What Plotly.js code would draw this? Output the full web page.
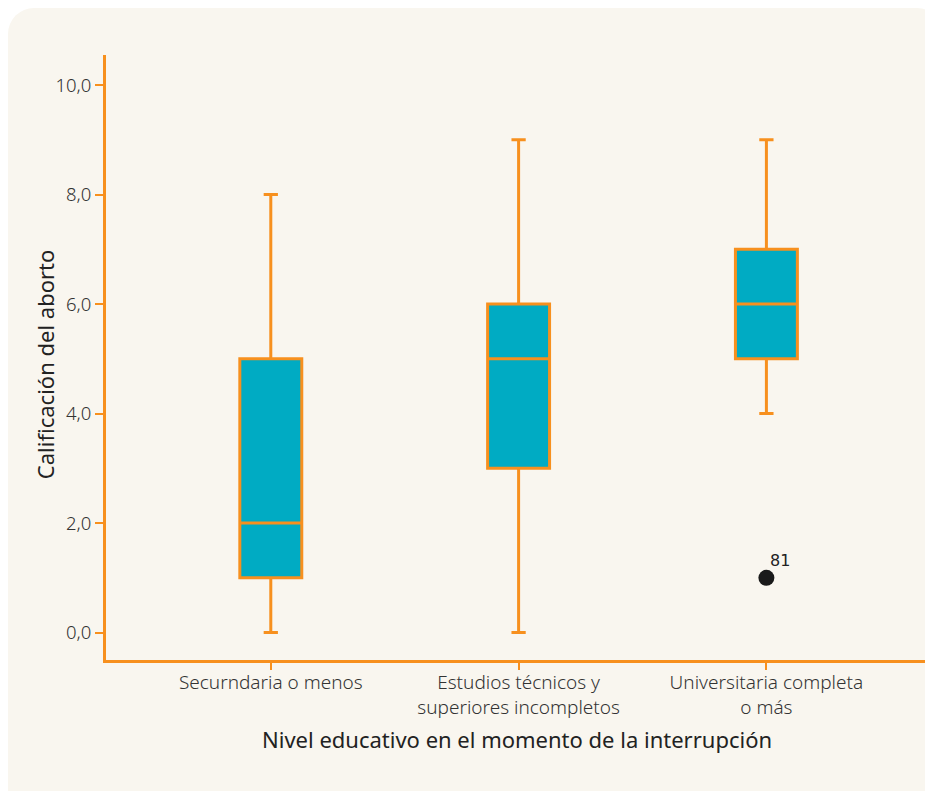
<!DOCTYPE html>
<html>
<head>
<meta charset="utf-8">
<script src="https://cdn.plot.ly/plotly-3.0.1.min.js"></script>
<style>
  html, body { margin: 0; padding: 0; background: #ffffff; overflow: hidden; }
  #panel { position: absolute; left: 8px; top: 8px; width: 935px; height: 820px; background: #f9f6ef; border-radius: 26px; }
  #chart { position: absolute; left: 0; top: 0; width: 925px; height: 791px; }
</style>
</head>
<body>
<div id="panel"></div>
<div id="chart"></div>
<script>
// Data
var categories = ["Securndaria o menos", "Estudios técnicos y<br>superiores incompletos", "Universitaria completa<br>o más"];
var lowerWhisker = [0, 0, 4];
var q1Values = [1, 3, 5];
var medianValues = [2, 5, 6];
var q3Values = [5, 6, 7];
var upperWhisker = [8, 9, 9];
var outlierCategory = ["Universitaria completa<br>o más"];
var outlierValue = [1];
var outlierLabel = ["81"];
var yTicks = [0, 2, 4, 6, 8, 10];
var xTitle = "Nivel educativo en el momento de la interrupción";
var yTitle = "Calificación del aborto";

var orange = "#f7901e";
var teal = "#00abc3";
var textColor = "#333333";

var boxTrace = {
  type: "box",
  x: categories,
  q1: q1Values,
  median: medianValues,
  q3: q3Values,
  lowerfence: lowerWhisker,
  upperfence: upperWhisker,
  fillcolor: teal,
  line: { color: orange, width: 3 },
  whiskerwidth: 0.23,
  width: 0.25,
  boxpoints: false,
  hoverinfo: "skip",
  showlegend: false
};

var outlierTrace = {
  type: "scatter",
  mode: "markers",
  x: outlierCategory,
  y: outlierValue,
  marker: { color: "#1a1a1a", size: 16 },
  cliponaxis: false,
  showlegend: false,
  hoverinfo: "skip"
};

var annotations = outlierLabel.map(function (t, i) {
  return {
    x: outlierCategory[i], y: outlierValue[i], text: t,
    xref: "x", yref: "y", showarrow: false,
    xanchor: "left", yanchor: "bottom", xshift: 2, yshift: 6,
    font: { family: "DejaVu Sans", size: 16, color: "#222222" }
  };
});
annotations.push({
  text: xTitle, xref: "paper", yref: "paper", x: 0.5024, y: -0.131,
  xanchor: "center", yanchor: "middle", showarrow: false,
  font: { family: "Noto Sans", size: 22, color: "#222222" }
});
annotations.push({
  text: yTitle, xref: "paper", yref: "paper", x: -0.0745, y: 0.489,
  xanchor: "center", yanchor: "middle", showarrow: false, textangle: -90,
  font: { family: "Noto Sans", size: 22, color: "#222222" }
});

var layout = {
  width: 925,
  height: 791,
  margin: { l: 106, r: 0, t: 55, b: 131 },
  paper_bgcolor: "rgba(0,0,0,0)",
  plot_bgcolor: "rgba(0,0,0,0)",
  font: { family: "Noto Sans", color: textColor, size: 19 },
  showlegend: false,
  annotations: annotations,
  xaxis: {
    type: "category",
    range: [-0.665, 2.64],
    showgrid: false,
    zeroline: false,
    showline: true,
    linecolor: orange,
    linewidth: 3,
    ticks: "outside",
    ticklen: 7,
    tickwidth: 2,
    tickcolor: orange,
    ticklabelstandoff: -4,
    tickfont: { family: "Noto Sans", size: 19, color: textColor, weight: 300 },
    automargin: false
  },
  yaxis: {
    range: [-0.5, 10.55],
    tickvals: yTicks,
    tickformat: ".1f",
    showgrid: false,
    zeroline: false,
    showline: true,
    linecolor: orange,
    linewidth: 3,
    ticks: "outside",
    ticklen: 8,
    tickwidth: 2,
    tickcolor: orange,
    tickfont: { family: "Noto Sans", size: 18.5, color: textColor, weight: 300 },
    automargin: false
  },
  separators: ",."
};

Plotly.newPlot("chart", [boxTrace, outlierTrace], layout, { displayModeBar: false, staticPlot: true });
</script>
</body>
</html>
